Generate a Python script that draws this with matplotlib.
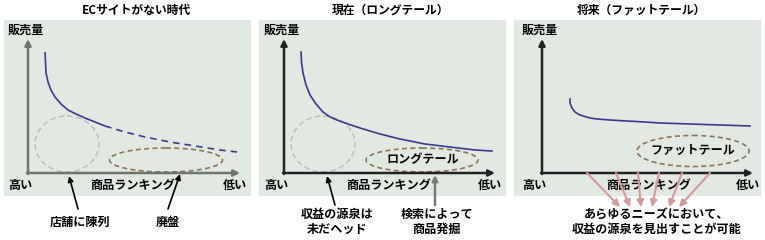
import matplotlib.pyplot as plt
from matplotlib.patches import Rectangle, Ellipse

plt.rcParams['font.family'] = ['Noto Sans CJK JP', 'DejaVu Sans']

titles = ['ECサイトがない時代', '現在（ロングテール）', '将来（ファットテール）']

# curves, picture coordinates (x right, y down)
era1_solid_x = [45, 45.5, 46, 48, 51, 55, 61, 68, 76, 85, 95, 105]
era1_solid_y = [52, 62, 73, 82, 90, 97, 104, 110, 114, 118, 122, 126]
era1_dash_x = [105, 125, 145, 170, 195, 220, 237]
era1_dash_y = [126, 132, 137, 142, 146, 150, 152]

era2_x = [301, 301.5, 303, 306, 310, 316, 323, 330, 337, 348, 360, 380, 400, 425, 450, 475, 492]
era2_y = [52, 62, 73, 85, 95, 104, 112, 117, 120, 124, 128, 134, 139, 144, 147, 150, 151]

era3_x = [570, 570, 572, 575, 579, 583, 590, 597, 610, 627, 645, 660, 690, 720, 750]
era3_y = [99, 103, 108, 112, 114.5, 116, 118, 119, 120, 121, 122, 123, 124, 125, 126]

fat_starts = [587, 616, 638, 659, 682, 710]
fat_ends = [620, 630, 641, 652, 669, 679]

bg = '#e2e9e3'
curve = '#3a3a8c'
fs = 8.7

fig = plt.figure(figsize=(7.65, 2.4), dpi=100)
ax = fig.add_axes([0, 0, 1, 1])
ax.set_xlim(0, 765)
ax.set_ylim(240, 0)
ax.axis('off')

panels = [(4, 28), (259, 284), (514, 542)]
x_tips = [240, 495, 753]
for i, (left, yax) in enumerate(panels):
    ax.add_patch(Rectangle((left, 20), 246, 175, color=bg, zorder=0))
    axcol = '#6e746e' if i == 0 else '#222222'
    ax.annotate('', xy=(yax, 39), xytext=(yax, 174),
                arrowprops=dict(arrowstyle='-|>', lw=1.8, color=axcol,
                                mutation_scale=9, shrinkA=0, shrinkB=0))
    ax.annotate('', xy=(x_tips[i], 173), xytext=(yax - 1, 173),
                arrowprops=dict(arrowstyle='-|>', lw=1.8, color=axcol,
                                mutation_scale=9, shrinkA=0, shrinkB=0))
    ax.text(left + 127 + (5 if i < 2 else 0), 10, titles[i], ha='center', va='center',
            fontsize=8.5, fontweight='bold')
    ax.text(yax - 20, 30, '販売量', ha='left', va='center', fontsize=fs, fontweight='bold')
    ax.text(yax - 20, 185, '高い', ha='left', va='center', fontsize=fs, fontweight='bold')
    ax.text(yax + 105 + (2 if i == 2 else 0), 185, '商品ランキング', ha='center', va='center',
            fontsize=fs, fontweight='bold')
    ax.text(x_tips[i] - 5, 185, '低い', ha='center', va='center', fontsize=fs, fontweight='bold')

# curves
ax.plot(era1_solid_x, era1_solid_y, color=curve, lw=1.2, solid_capstyle='butt')
ax.plot(era1_dash_x, era1_dash_y, color=curve, lw=1.2, dashes=(4, 3))
ax.plot(era2_x, era2_y, color=curve, lw=1.2)
ax.plot(era3_x, era3_y, color=curve, lw=1.2)

# ellipses
gray = '#b9bdb9'
brown = '#8a7456'
for cx in (67, 323):
    ax.add_patch(Ellipse((cx, 144), 64, 56, fill=False, ec=gray, lw=1, ls=(0, (4, 2.5))))
ax.add_patch(Ellipse((166, 160), 113, 24, fill=False, ec=brown, lw=1.2, ls=(0, (3, 2))))
ax.add_patch(Ellipse((422, 160), 112, 24, fill=False, ec=brown, lw=1.2, ls=(0, (3, 2))))
ax.add_patch(Ellipse((693, 151), 112, 31, fill=False, ec=brown, lw=1.2, ls=(0, (3, 2))))
ax.text(423, 160, 'ロングテール', ha='center', va='center', fontsize=fs, fontweight='bold')
ax.text(693, 150, 'ファットテール', ha='center', va='center', fontsize=fs, fontweight='bold')

# callouts
def callout(x0, y0, x1, y1, color='black', lw=1.2, ms=8):
    ax.annotate('', xy=(x1, y1), xytext=(x0, y0),
                arrowprops=dict(arrowstyle='-|>', lw=lw, color=color,
                                mutation_scale=ms, shrinkA=0, shrinkB=0))

callout(78, 209, 69, 176)
ax.text(80, 222, '店舗に陳列', ha='center', va='center', fontsize=fs, fontweight='bold')
callout(168, 209, 180, 174)
ax.text(168, 222, '廃盤', ha='center', va='center', fontsize=fs, fontweight='bold')

callout(335, 205, 327, 176)
ax.text(337, 222, '収益の源泉は\n未だヘッド', ha='center', va='center', fontsize=fs,
        fontweight='bold', linespacing=1.2)
callout(435, 205, 435, 175, color='#7a7a7a', lw=1.8)
ax.text(437, 222, '検索によって\n商品発掘', ha='center', va='center', fontsize=fs,
        fontweight='bold', linespacing=1.2)

for xs, xe in zip(fat_starts, fat_ends):
    callout(xs, 173, xe, 207, color='#d29a9a', lw=1.5, ms=10)
ax.text(657, 222, 'あらゆるニーズにおいて、\n収益の源泉を見出すことが可能', ha='center', va='center',
        fontsize=fs, fontweight='bold', linespacing=1.2)

fig.savefig('out.png', dpi=100)
